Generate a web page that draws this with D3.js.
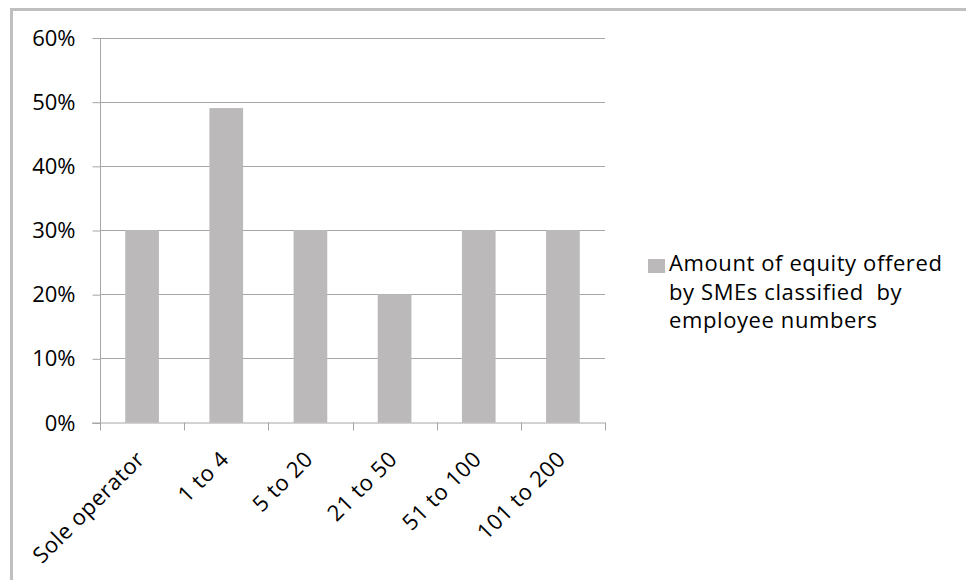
<!DOCTYPE html>
<html>
<head>
<meta charset="utf-8">
<script src="https://cdn.jsdelivr.net/npm/d3@7"></script>
<style>
  html, body { margin: 0; padding: 0; background: #fff; }
  svg { display: block; }
  text { font-family: "Open Sans", "Liberation Sans", sans-serif; fill: #000; }
</style>
</head>
<body>
<svg id="chart" width="966" height="580"></svg>
<script>
// Equity offered by SMEs, grouped by number of employees
const categories = ["Sole operator", "1 to 4", "5 to 20", "21 to 50", "51 to 100", "101 to 200"];
const values = [0.30, 0.49, 0.30, 0.20, 0.30, 0.30];
const yTicks = [0, 0.1, 0.2, 0.3, 0.4, 0.5, 0.6];
const seriesName = ["Amount of equity offered", "by SMEs classified  by", "employee numbers"];

const svg = d3.select("#chart");
const W = 966, H = 580;
const plot = { left: 100, right: 605, top: 37.5, bottom: 422.5 };
const barColor = "#BBB9BA";
const gridColor = "#A6A6A6";

// outer chart frame
svg.append("rect")
  .attr("x", 11.5).attr("y", 9.5)
  .attr("width", W + 20).attr("height", H + 20)
  .attr("fill", "none").attr("stroke", "#BFBFBF").attr("stroke-width", 3);

const x = d3.scaleBand().domain(categories).range([plot.left, plot.right]).paddingInner(0.6).paddingOuter(0.3);
const y = d3.scaleLinear().domain([0, 0.6]).range([plot.bottom, plot.top]);

// horizontal gridlines
svg.append("g").selectAll("line").data(yTicks.filter(d => d > 0)).join("line")
  .attr("x1", plot.left).attr("x2", plot.right)
  .attr("y1", d => Math.round(y(d)) + 0.5).attr("y2", d => Math.round(y(d)) + 0.5)
  .attr("stroke", gridColor).attr("stroke-width", 1);

// bars
svg.append("g").selectAll("rect").data(values).join("rect")
  .attr("x", (d, i) => x(categories[i]))
  .attr("width", x.bandwidth())
  .attr("y", d => y(d))
  .attr("height", d => y(0) - y(d))
  .attr("fill", barColor);

// y axis
const yAxis = d3.axisLeft(y).tickValues(yTicks).tickFormat(d3.format(".0%")).tickSize(8).tickPadding(17);
const gy = svg.append("g").attr("transform", `translate(${plot.left + 0.5},0.5)`).call(yAxis);
gy.select(".domain").attr("stroke", gridColor).attr("d", `M0,${plot.top}V${plot.bottom}`);
gy.selectAll(".tick line").attr("stroke", gridColor);
gy.selectAll(".tick text").attr("font-size", 22).attr("fill", "#000")
  .attr("font-family", "'Open Sans', sans-serif");

// x axis: ticks sit on category boundaries
const step = (plot.right - plot.left) / categories.length;
const xb = svg.append("g");
xb.append("line")
  .attr("x1", plot.left - 8).attr("x2", plot.right)
  .attr("y1", plot.bottom + 0.5).attr("y2", plot.bottom + 0.5)
  .attr("stroke", gridColor);
xb.selectAll("line.tk").data(d3.range(categories.length + 1)).join("line")
  .attr("class", "tk")
  .attr("x1", i => Math.round(plot.left + i * step) + 0.5)
  .attr("x2", i => Math.round(plot.left + i * step) + 0.5)
  .attr("y1", plot.bottom).attr("y2", plot.bottom + 8)
  .attr("stroke", gridColor);

xb.selectAll("text").data(categories).join("text")
  .attr("transform", d => `translate(${x(d) + x.bandwidth() / 2 + 4},${plot.bottom + 38}) rotate(-45)`)
  .attr("text-anchor", "end")
  .attr("font-size", 22)
  .attr("letter-spacing", 0.6)
  .text(d => d);

// legend
const lg = svg.append("g").attr("transform", "translate(648,259)");
lg.append("rect").attr("width", 17).attr("height", 14).attr("fill", barColor);
lg.selectAll("text").data(seriesName).join("text")
  .attr("x", 21).attr("y", (d, i) => 12 + i * 28.5)
  .attr("font-size", 22)
  .attr("letter-spacing", 0.6)
  .style("white-space", "pre")
  .text(d => d);
</script>
</body>
</html>
